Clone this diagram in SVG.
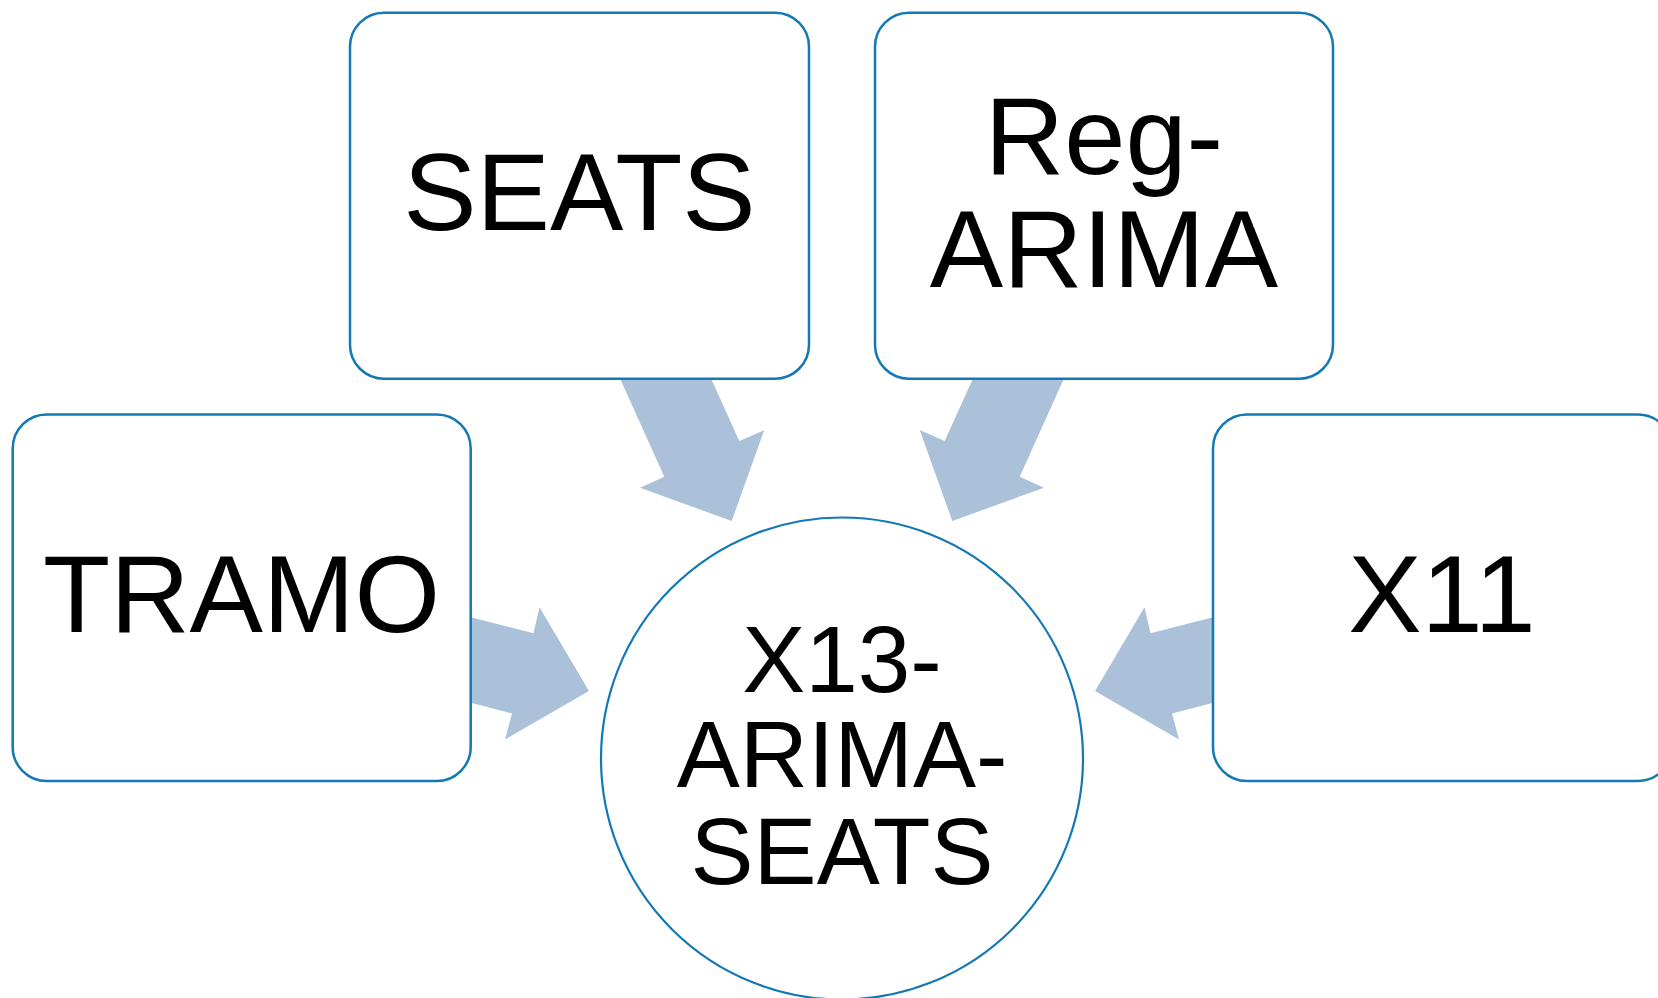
<svg xmlns="http://www.w3.org/2000/svg" width="1658" height="998" viewBox="0 0 1658 998">
  <style>
    .box { fill: #ffffff; stroke: #1279B4; stroke-width: 2.5; }
    .hub { fill: #ffffff; stroke: #1279B4; stroke-width: 2.2; }
    .arrow { fill: #AAC1D9; stroke: none; }
    .lbl { font-family: "Liberation Sans", Arial, sans-serif; font-size: 110px; fill: #000000; text-anchor: middle; }
    .hublbl { font-family: "Liberation Sans", Arial, sans-serif; font-size: 94.5px; fill: #000000; text-anchor: middle; }
  </style>
  <rect width="1658" height="998" fill="#ffffff"/>

  <!-- block arrows pointing into the central circle -->
  <g id="connectors">
    <polygon class="arrow" points="618,374 709,374 739.3,441 764.3,430 731.7,521 640,487.7 664.3,476.7"/>
    <polygon class="arrow" points="1066,374 975,374 944.7,441 919.7,430 952.3,521 1044,487.7 1019.7,476.7"/>
    <polygon class="arrow" points="464,615.5 533.5,633.3 539.5,607.3 589,691 505,739.5 512,713.5 464,701"/>
    <polygon class="arrow" points="1220,615.5 1150.5,633.3 1144.5,607.3 1095,691 1179,739.5 1172,713.5 1220,701"/>
  </g>

  <g id="node-seats">
    <rect class="box" x="350" y="12.7" width="459" height="366" rx="34" ry="34"/>
    <text class="lbl" x="579.5" y="230">SEATS</text>
  </g>

  <g id="node-regarima">
    <rect class="box" x="875" y="12.7" width="458" height="366" rx="34" ry="34"/>
    <text class="lbl" x="1104" y="174">Reg-</text>
    <text class="lbl" x="1104" y="286.7">ARIMA</text>
  </g>

  <g id="node-tramo">
    <rect class="box" x="12.7" y="414.5" width="458" height="366.5" rx="34" ry="34"/>
    <text class="lbl" x="241.6" y="632.3">TRAMO</text>
  </g>

  <g id="node-x11">
    <rect class="box" x="1213" y="414.5" width="459" height="366.5" rx="34" ry="34"/>
    <text class="lbl" x="1442" y="632.3">X11</text>
  </g>

  <g id="node-x13">
    <circle class="hub" cx="842" cy="758.5" r="241"/>
    <text class="hublbl" x="842" y="691.7">X13-</text>
    <text class="hublbl" x="842" y="787.3">ARIMA-</text>
    <text class="hublbl" x="842" y="884.3">SEATS</text>
  </g>
</svg>
